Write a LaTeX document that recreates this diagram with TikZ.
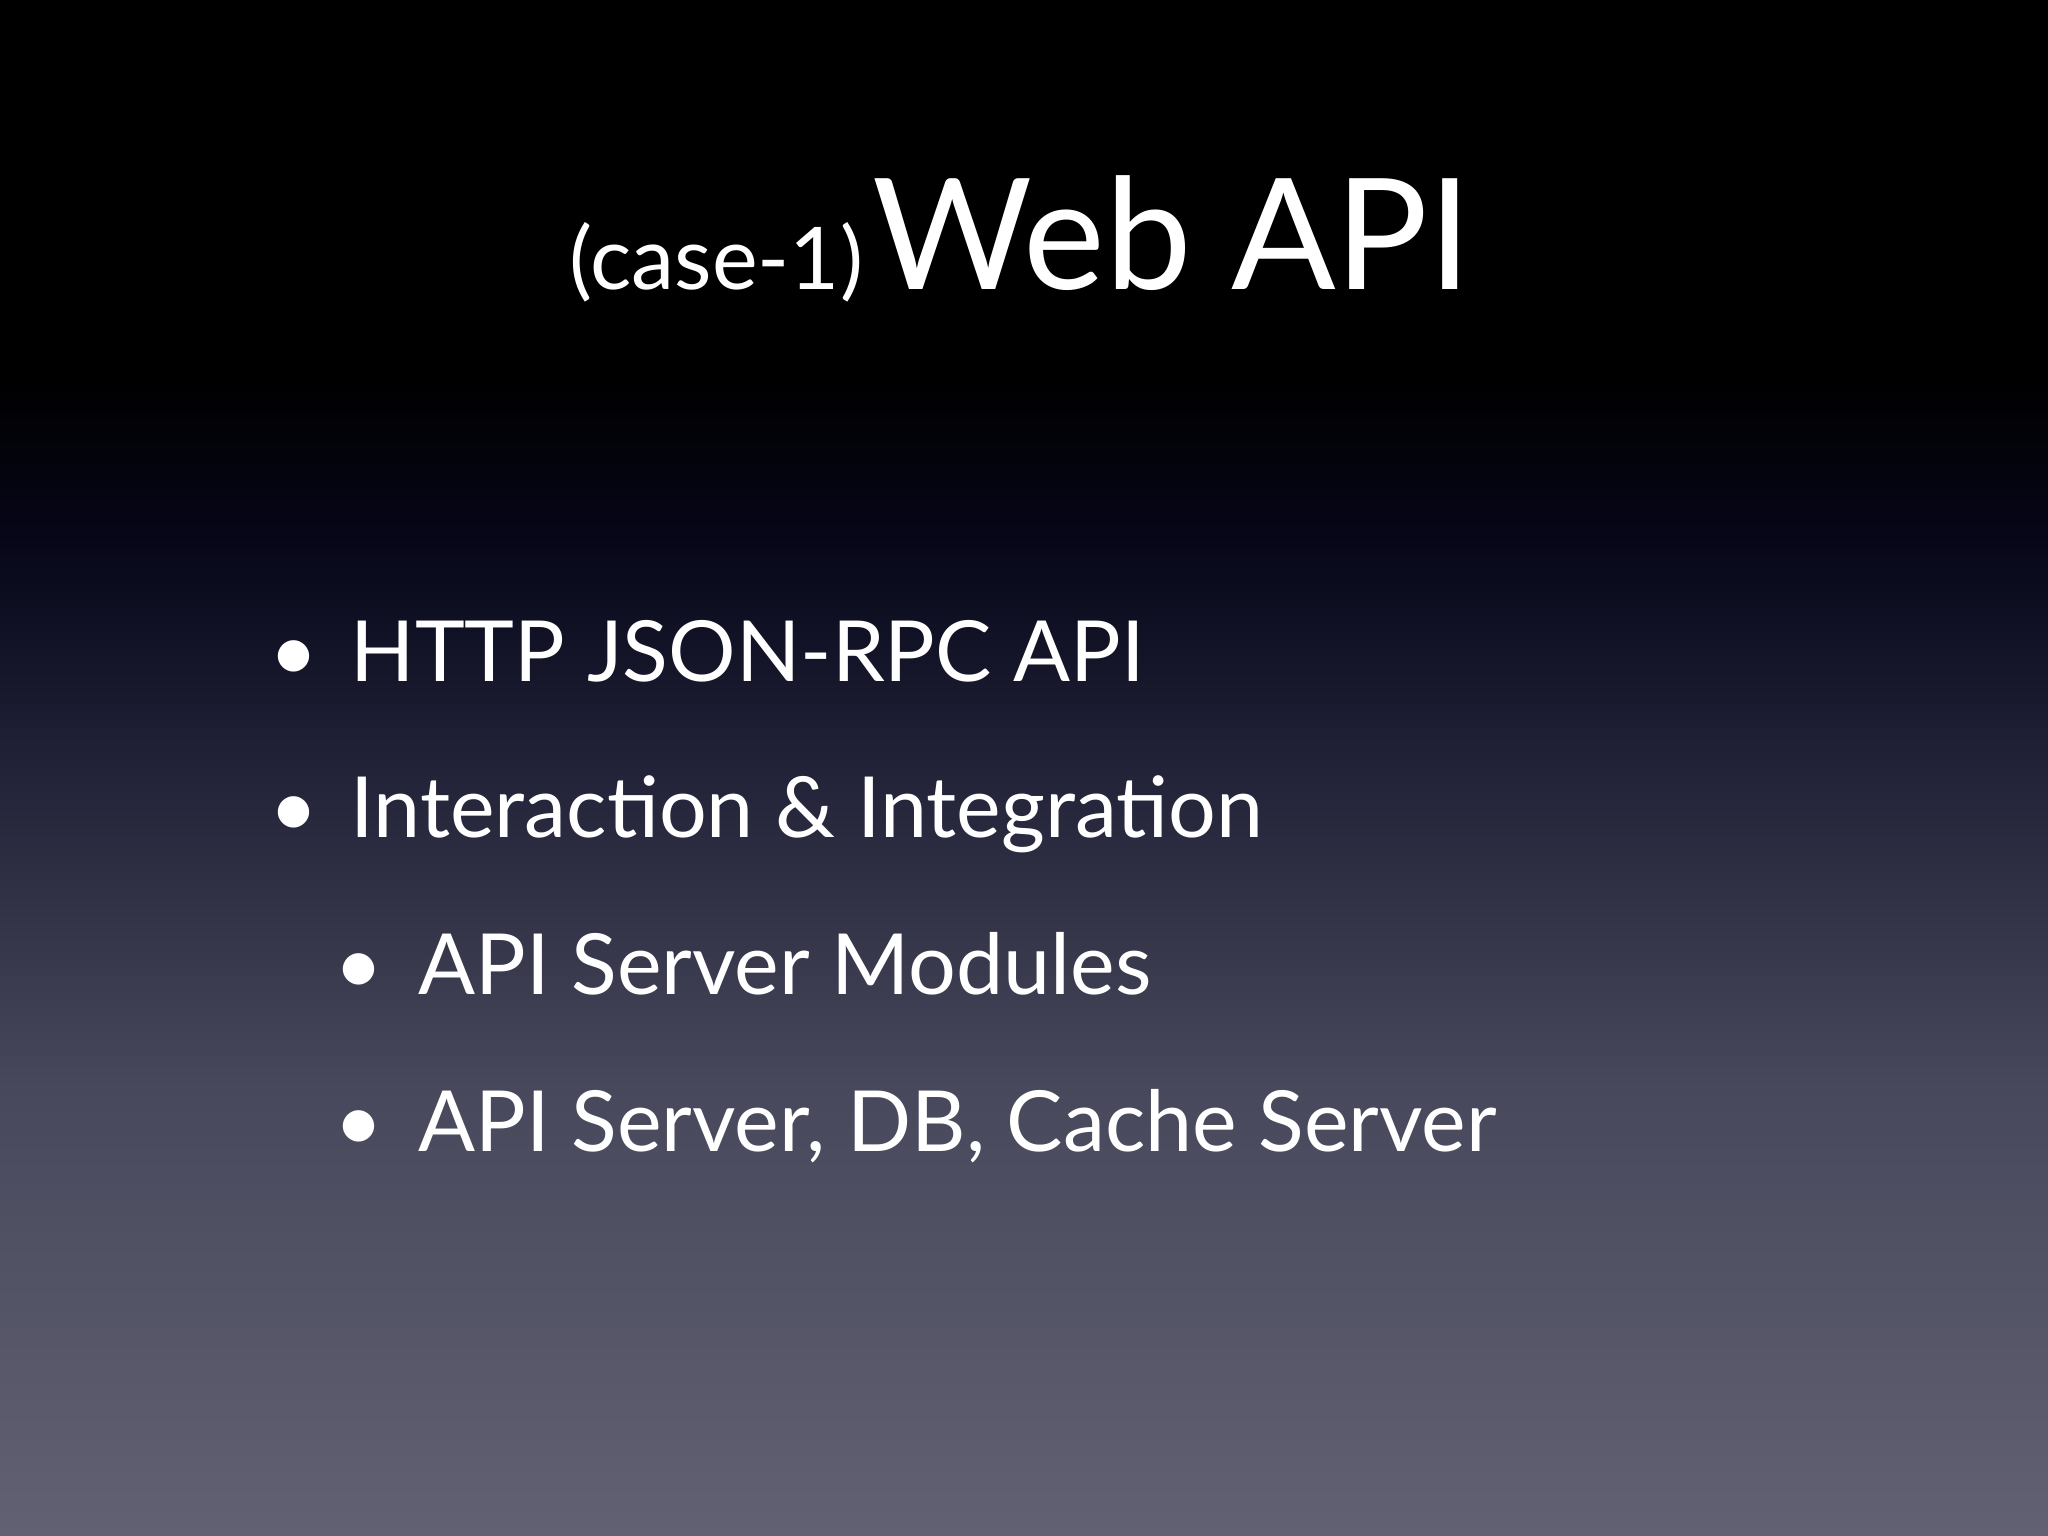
\documentclass[tikz,border=0pt]{standalone}
\usepackage{fontspec}
\setmainfont{Lato}
\definecolor{c0}{RGB}{98,97,115}
\definecolor{c1}{RGB}{72,72,92}
\definecolor{c2}{RGB}{30,30,52}
\definecolor{c3}{RGB}{6,6,24}
\begin{document}
\begin{tikzpicture}[x=1cm,y=1cm,
  txt/.style={text=white,anchor=base west,inner sep=0pt,font=\fontsize{24pt}{26pt}\selectfont},
  bul/.style={text=white,anchor=base,inner sep=0pt,font=\fontsize{24pt}{26pt}\selectfont}]
\useasboundingbox (0,0) rectangle (20.48,15.36);
\shade[top color=c1,bottom color=c0] (0,0) rectangle (20.48,4.5);
\shade[top color=c2,bottom color=c1] (0,4.49) rectangle (20.48,8.0);
\shade[top color=c3,bottom color=c2] (0,7.99) rectangle (20.48,10.0);
\shade[top color=black,bottom color=c3] (0,9.99) rectangle (20.48,11.6);
\fill[black] (0,11.59) rectangle (20.48,15.36);
\node[anchor=base,text=white,inner sep=0pt] (title) at (10.21,12.46)
  {{\fontsize{24.6pt}{26pt}\selectfont (case-1)} {\fontsize{44pt}{48pt}\selectfont Web API}};
\node[bul] (b1) at (2.94,8.54) {•};
\node[txt] (t1) at (3.5,8.54) {HTTP JSON-RPC API};
\node[bul] (b2) at (2.94,6.98) {•};
\node[txt] (t2) at (3.5,6.98) {Interaction \& Integration};
\node[bul] (b3) at (3.59,5.41) {•};
\node[txt] (t3) at (4.18,5.41) {API Server Modules};
\node[bul] (b4) at (3.59,3.84) {•};
\node[txt] (t4) at (4.18,3.84) {API Server, DB, Cache Server};
\end{tikzpicture}
\end{document}
